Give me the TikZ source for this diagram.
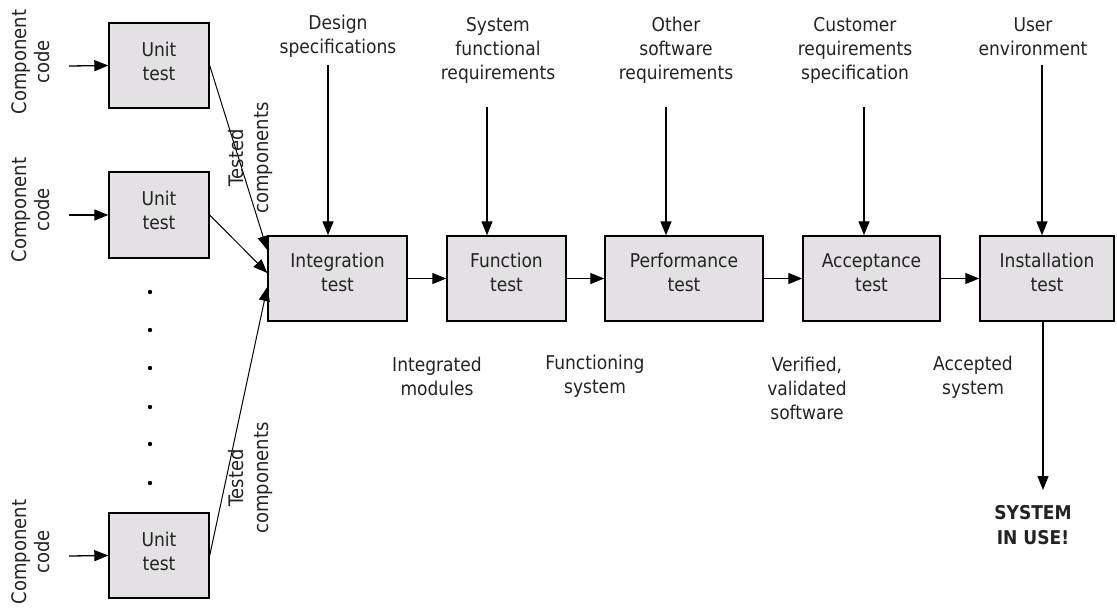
\documentclass[tikz,border=0pt]{standalone}
\usepackage{fontspec}
\setmainfont{DejaVu Sans Condensed}
\usetikzlibrary{arrows.meta}
\definecolor{boxgray}{RGB}{227,225,227}
\definecolor{txtgray}{RGB}{35,35,35}

\begin{document}
\begin{tikzpicture}[x=1pt,y=-1pt,
    font=\fontsize{19}{24}\selectfont,
    testbox/.style={draw,line width=1.4pt,fill=boxgray,align=center,
      text=txtgray,inner sep=0pt,text depth=12pt},
    note/.style={align=center,text=txtgray,inner sep=0pt},
    arr/.style={line width=1.3pt,-{Triangle[length=14pt,width=11pt]}},
    thinarr/.style={line width=1pt,-{Triangle[length=14pt,width=11pt]}}]
  \useasboundingbox (0,0) rectangle (1117,611);

  % unit tests on the left
  \node[testbox,minimum width=100,minimum height=85,text depth=9pt] (unitA) at (159,65.5) {Unit\\test};
  \node[testbox,minimum width=100,minimum height=86,text depth=9pt] (unitB) at (159,215) {Unit\\test};
  \node[testbox,minimum width=100,minimum height=85,text depth=9pt] (unitC) at (159,555.5) {Unit\\test};
  \node[note,rotate=90,font=\fontsize{20}{23}\selectfont] (codeA) at (31,62) {Component\\code};
  \node[note,rotate=90,font=\fontsize{20}{23}\selectfont] (codeB) at (31,210) {Component\\code};
  \node[note,rotate=90,font=\fontsize{20}{23}\selectfont] (codeC) at (31,552) {Component\\code};
  \coordinate (inA) at (69,66);
  \coordinate (inB) at (69,215);
  \coordinate (inC) at (69,556);
  \draw[arr] (inA) -- (unitA.west);
  \draw[arr] (inB) -- (unitB.west);
  \draw[arr] (inC) -- (unitC.west);
  \foreach \y in {292,330,368,407,444,483}
    \fill (150,\y) circle (2.2);

  % test stages
  \node[testbox,minimum width=139,minimum height=85] (integ) at (337.5,278.5) {Integration\\test};
  \node[testbox,minimum width=119,minimum height=85] (func) at (506.5,278.5) {Function\\test};
  \node[testbox,minimum width=158,minimum height=85] (perf) at (684,278.5) {Performance\\test};
  \node[testbox,minimum width=137,minimum height=85] (accept) at (871.5,278.5) {Acceptance\\test};
  \node[testbox,minimum width=134,minimum height=85] (inst) at (1047,278.5) {Installation\\test};

  \draw[thinarr] (unitA.east) -- ([yshift=28.5pt]integ.west);
  \draw[thinarr] (unitB.east) -- ([yshift=5.5pt]integ.west);
  \draw[thinarr] (unitC.east) -- ([yshift=-8.5pt]integ.west);
  \node[note,rotate=90,font=\fontsize{20}{25}\selectfont] (tcA) at (250,158) {Tested\\components};
  \node[note,rotate=90,font=\fontsize{20}{25}\selectfont] (tcB) at (250,478) {Tested\\components};

  \draw[arr] (integ) -- (func);
  \draw[arr] (func) -- (perf);
  \draw[arr] (perf) -- (accept);
  \draw[arr] (accept) -- (inst);

  % inputs from above
  \node[note] (desn) at (338,36.5) {Design\\specifications};
  \node[note] (sysreq) at (498,50) {System\\functional\\requirements};
  \node[note] (othreq) at (676,50) {Other\\software\\requirements};
  \node[note] (custreq) at (855,50) {Customer\\requirements\\specification};
  \node[note] (userenv) at (1033,36.5) {User\\environment};
  \coordinate (dsA) at (328,65);
  \coordinate (dsB) at (487,107);
  \coordinate (dsC) at (666,107);
  \coordinate (dsD) at (864,107);
  \coordinate (dsE) at (1042,65);
  \draw[arr] (dsA) -- (dsA |- integ.north);
  \draw[arr] (dsB) -- (dsB |- func.north);
  \draw[arr] (dsC) -- (dsC |- perf.north);
  \draw[arr] (dsD) -- (dsD |- accept.north);
  \draw[arr] (dsE) -- (dsE |- inst.north);

  % outputs below
  \node[note] (intmod) at (437,376) {Integrated\\modules};
  \node[note] (funsys) at (595,376) {Functioning\\system};
  \node[note] (verif) at (807,388.5) {Verified,\\validated\\software};
  \node[note] (accsys) at (973,377.5) {Accepted\\system};
  \coordinate (useTop) at (1043,490);
  \draw[arr] (useTop |- inst.south) -- (useTop);
  \node[note,font=\fontsize{19}{25}\selectfont\bfseries] (inuse) at (1033,525.5) {SYSTEM\\IN USE!};
\end{tikzpicture}
\end{document}
